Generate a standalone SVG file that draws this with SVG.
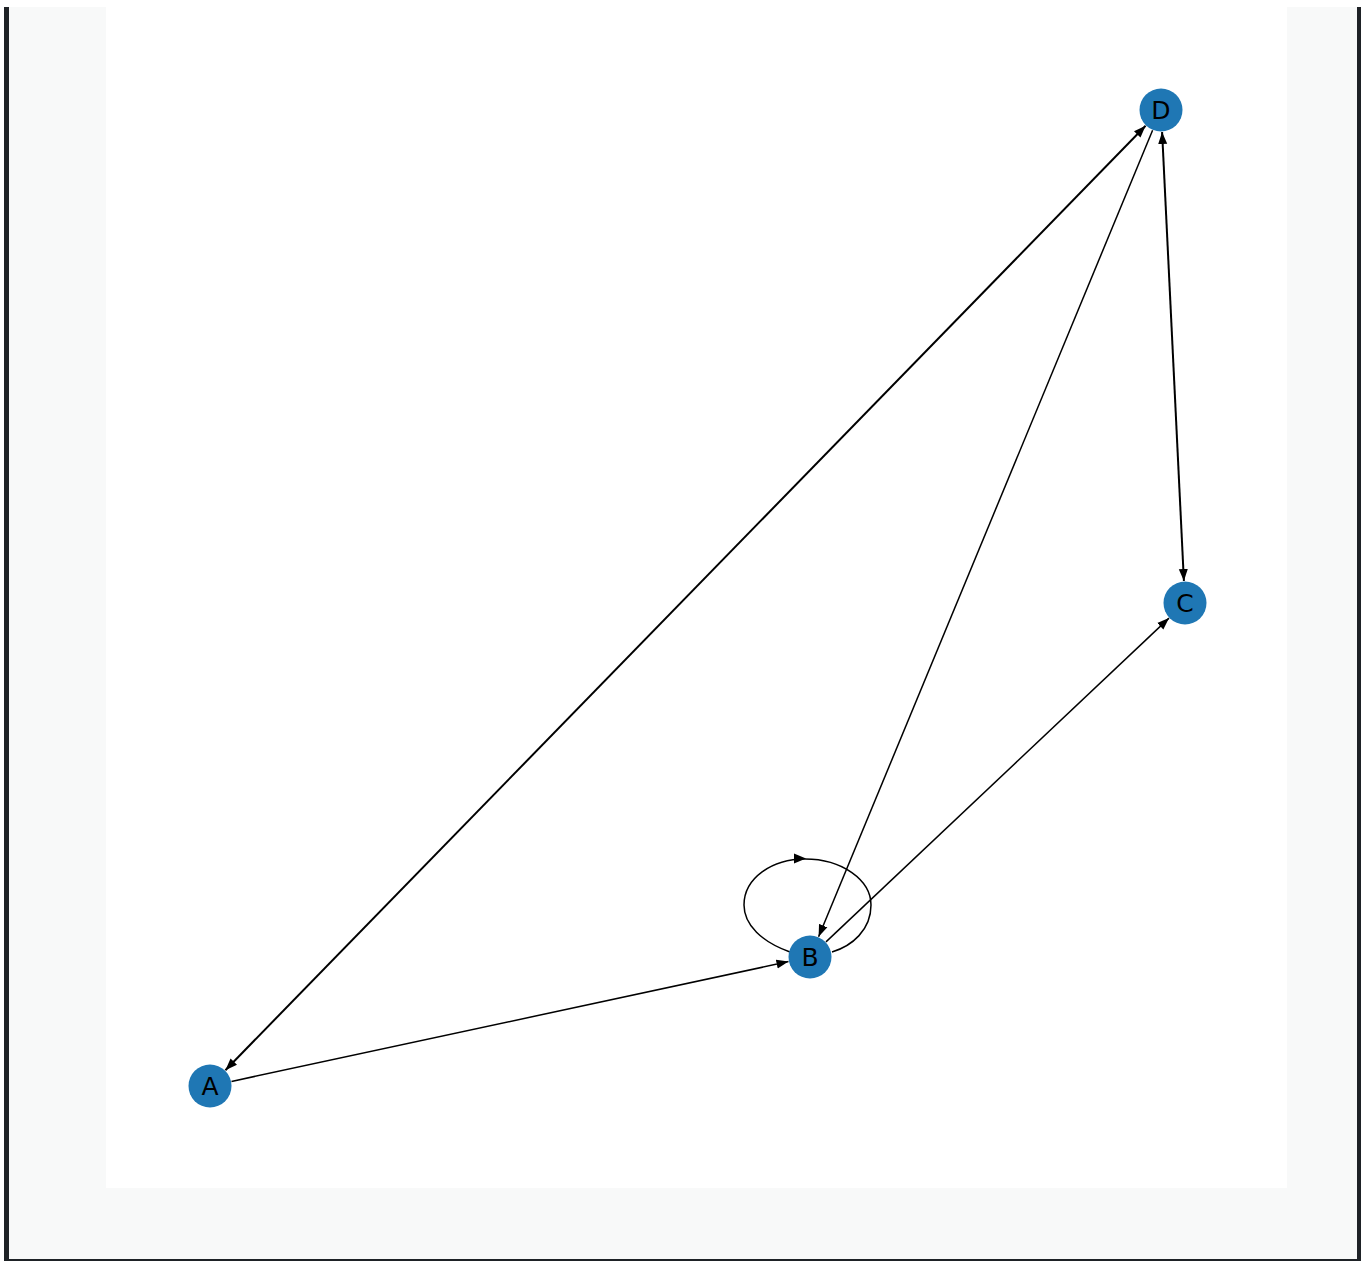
<svg xmlns="http://www.w3.org/2000/svg" width="1367" height="1261" viewBox="0 0 1367 1261">
<defs>
<style>
.edge{stroke:#000;stroke-width:1.5;fill:none}
.edge.both{stroke-width:2}
.node circle{fill:#1f77b4}
.node text{font-family:"DejaVu Sans",sans-serif;font-size:25px;fill:#000;text-anchor:middle;dominant-baseline:central}
</style>
<marker id="ah" markerUnits="userSpaceOnUse" markerWidth="12" markerHeight="10" viewBox="0 0 12 10" refX="12" refY="5" orient="auto-start-reverse">
<path d="M0,0.5 L12,5 L0,9.5 Z" fill="#000"/>
</marker>
</defs>
<rect x="0" y="0" width="1367" height="1261" fill="#fff"/>
<rect x="9" y="7" width="1348" height="1252" fill="#f8f9f9"/>
<rect x="106" y="7" width="1181" height="1181" fill="#fff"/>
<rect x="4" y="7" width="5" height="1254" fill="#1e2226"/>
<rect x="1357" y="7" width="4" height="1254" fill="#1e2226"/>
<rect x="4" y="1259" width="1357" height="2" fill="#1e2226"/>
<g id="edges">
<line class="edge both" x1="225.4" y1="1070.2" x2="1145.6" y2="125.8" marker-start="url(#ah)" marker-end="url(#ah)"/>
<line class="edge" x1="1152.6" y1="130.3" x2="818.6" y2="936.7" marker-end="url(#ah)"/>
<line class="edge both" x1="1162.1" y1="132" x2="1183.9" y2="581" marker-start="url(#ah)" marker-end="url(#ah)"/>
<line class="edge" x1="826" y1="941.9" x2="1169" y2="618.1" marker-end="url(#ah)"/>
<line class="edge" x1="231.5" y1="1081.4" x2="788.5" y2="961.6" marker-end="url(#ah)"/>
<path class="edge" d="M790,952 C762,942 744,925 744,905 C744,878 772,859 805,859 C842,859 871,880 871,905 C871,930 852,946 832,952"/>
<path d="M794,853.5 L806,858.5 L794,863.5 Z" fill="#000"/>
</g>
<g id="node-D" class="node"><circle cx="1161" cy="110" r="21.5"/><text x="1161" y="110">D</text></g>
<g id="node-C" class="node"><circle cx="1185" cy="603" r="21.5"/><text x="1185" y="603">C</text></g>
<g id="node-B" class="node"><circle cx="810" cy="957" r="21.5"/><text x="810" y="957">B</text></g>
<g id="node-A" class="node"><circle cx="210" cy="1086" r="21.5"/><text x="210" y="1086">A</text></g>
</svg>
